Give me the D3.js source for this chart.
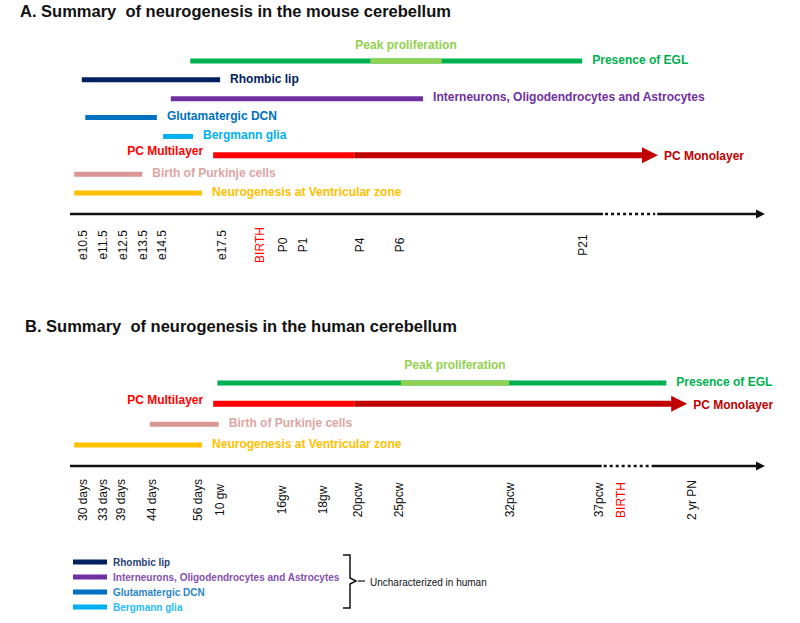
<!DOCTYPE html>
<html><head><meta charset="utf-8">
<script src="https://cdn.jsdelivr.net/npm/d3@7"></script>
<style>body{margin:0;background:#fff}svg{display:block}text{font-family:"Liberation Sans",Arial,sans-serif}</style>
</head><body><svg id="c" width="800" height="623"></svg>
<script>
// ---- DATA (timeline units 0..100 along the axis) ----
const mouseTickLabels = ["e10.5","e11.5","e12.5","e13.5","e14.5","e17.5","BIRTH","P0","P1","P4","P6","P21"];
const mouseTickPos    = [1.9, 4.7, 7.6, 10.5, 13.2, 21.9, 27.3, 30.6, 33.5, 41.7, 47.5, 73.8];
const mouseRows   = ["Presence of EGL","Rhombic lip","Interneurons, Oligodendrocytes and Astrocytes","Glutamatergic DCN","Bergmann glia","PC Multilayer","Birth of Purkinje cells","Neurogenesis at Ventricular zone"];
const mouseStart  = [17.3, 1.7, 14.5, 2.2, 13.4, 20.6, 0.6, 0.6];
const mouseEnd    = [73.7, 21.6, 50.8, 12.5, 17.7, 84.6, 10.4, 19.0];
const mousePeak   = [43.2, 53.5];
const mousePCMono = 40.9;
const mouseBreak  = [76.7, 84.2];

const humanTickLabels = ["30 days","33 days","39 days","44 days","56 days","10 gw","16gw","18gw","20pcw","25pcw","32pcw","37pcw","BIRTH","2 yr PN"];
const humanTickPos    = [1.9, 4.7, 7.3, 11.8, 18.4, 21.6, 30.5, 36.4, 41.4, 47.3, 63.3, 76.1, 79.3, 89.4];
const humanRows   = ["Presence of EGL","PC Multilayer","Birth of Purkinje cells","Neurogenesis at Ventricular zone"];
const humanStart  = [21.2, 20.6, 11.5, 0.6];
const humanEnd    = [85.8, 88.8, 21.4, 19.0];
const humanPeak   = [47.6, 63.2];
const humanPCMono = 40.9;
const humanBreak  = [76.5, 83.4];

const legendItems = ["Rhombic lip","Interneurons, Oligodendrocytes and Astrocytes","Glutamatergic DCN","Bergmann glia"];
const legendNote  = "Uncharacterized in human";

// ---- STYLES ----
const colors = {
  "Presence of EGL":"#00b050",
  "Peak":"#92d050",
  "Rhombic lip":"#002060",
  "Interneurons, Oligodendrocytes and Astrocytes":"#7030a0",
  "Glutamatergic DCN":"#0070c0",
  "Bergmann glia":"#00b0f0",
  "PC Multilayer":"#ff0000",
  "PC Monolayer":"#c00000",
  "Birth of Purkinje cells":"#d99694",
  "Neurogenesis at Ventricular zone":"#ffc000"
};
const labelColors = Object.assign({}, colors, {"Birth of Purkinje cells":"#dca5a4"});

const svg = d3.select("#c");
svg.append("rect").attr("width",800).attr("height",623).attr("fill","#fff");
const x = d3.scaleLinear().domain([0,100]).range([70,765]);

function panel(o){
  const g = svg.append("g");
  g.append("text").attr("x",o.titleX).attr("y",o.titleY).attr("font-size",16.5).attr("font-weight","bold")
    .attr("fill","#111").attr("xml:space","preserve").text(o.title);
  const y = d3.scalePoint().domain(o.rows).range(o.rowRange);
  o.rows.forEach((r,i)=>{
    const yy = y(r), s = o.start[i], e = o.end[i];
    if(r==="PC Multilayer"){
      g.append("line").attr("x1",x(s)).attr("x2",x(o.mono)).attr("y1",yy).attr("y2",yy)
        .attr("stroke",colors["PC Multilayer"]).attr("stroke-width",6);
      g.append("line").attr("x1",x(o.mono)).attr("x2",x(e)-14).attr("y1",yy).attr("y2",yy)
        .attr("stroke",colors["PC Monolayer"]).attr("stroke-width",6);
      const tip = x(e);
      g.append("path").attr("d",`M${tip-16},${yy-8}L${tip},${yy}L${tip-16},${yy+8}Z`).attr("fill",colors["PC Monolayer"]);
      g.append("text").attr("x",x(s)-10).attr("y",yy-4).attr("dy","0.35em").attr("text-anchor","end")
        .attr("font-size",12).attr("font-weight","bold").attr("fill",colors["PC Multilayer"]).text("PC Multilayer");
      g.append("text").attr("x",tip+6).attr("y",yy+1).attr("dy","0.35em")
        .attr("font-size",12).attr("font-weight","bold").attr("fill",colors["PC Monolayer"]).text("PC Monolayer");
      return;
    }
    g.append("line").attr("x1",x(s)).attr("x2",x(e)).attr("y1",yy).attr("y2",yy)
      .attr("stroke",colors[r]).attr("stroke-width",5);
    if(r==="Presence of EGL"){
      g.append("line").attr("x1",x(o.peak[0])).attr("x2",x(o.peak[1])).attr("y1",yy).attr("y2",yy)
        .attr("stroke",colors.Peak).attr("stroke-width",5);
      g.append("text").attr("x",(x(o.peak[0])+x(o.peak[1]))/2).attr("y",yy-o.peakOff).attr("dy","0.35em")
        .attr("text-anchor","middle").attr("font-size",12).attr("font-weight","bold").attr("fill",colors.Peak).text("Peak proliferation");
    }
    g.append("text").attr("x",x(e)+10).attr("y",yy-1.5).attr("dy","0.35em")
      .attr("font-size",12).attr("font-weight","bold").attr("fill",labelColors[r]).text(r);
  });
  // axis
  const ay = o.axisY;
  g.append("line").attr("x1",x(0)).attr("x2",x(o.brk[0])).attr("y1",ay).attr("y2",ay).attr("stroke","#111").attr("stroke-width",2.5);
  g.append("line").attr("x1",x(o.brk[0])+2).attr("x2",x(o.brk[1])).attr("y1",ay).attr("y2",ay).attr("stroke","#111")
    .attr("stroke-width",2.5).attr("stroke-dasharray","3,3");
  g.append("line").attr("x1",x(o.brk[1])+2).attr("x2",x(100)-6).attr("y1",ay).attr("y2",ay).attr("stroke","#111").attr("stroke-width",2.5);
  g.append("path").attr("d",`M${x(100)-9},${ay-4.5}L${x(100)},${ay}L${x(100)-9},${ay+4.5}Z`).attr("fill","#111");
  o.tickLabels.forEach((t,i)=>{
    const tx = x(o.tickPos[i]);
    g.append("text").attr("transform",`translate(${tx},${o.labelY}) rotate(-90)`)
      .attr("text-anchor","middle").attr("dy","0.35em").attr("font-size",12)
      .attr("fill", t==="BIRTH" ? "#ff0000" : "#111").text(t);
  });
}

panel({title:"A. Summary  of neurogenesis in the mouse cerebellum", titleX:20, titleY:17,
  rows:mouseRows, start:mouseStart, end:mouseEnd, peak:mousePeak, mono:mousePCMono, brk:mouseBreak,
  rowRange:[61,193], peakOff:16, axisY:214, labelY:245, tickLabels:mouseTickLabels, tickPos:mouseTickPos});
panel({title:"B. Summary  of neurogenesis in the human cerebellum", titleX:25, titleY:332,
  rows:humanRows, start:humanStart, end:humanEnd, peak:humanPeak, mono:humanPCMono, brk:humanBreak,
  rowRange:[383,445], peakOff:18, axisY:466, labelY:500, tickLabels:humanTickLabels, tickPos:humanTickPos});

// legend
const lg = svg.append("g");
const ly = d3.scalePoint().domain(legendItems).range([562,607]);
legendItems.forEach(k=>{
  lg.append("line").attr("x1",73).attr("x2",107).attr("y1",ly(k)).attr("y2",ly(k)).attr("stroke",colors[k]).attr("stroke-width",5);
  lg.append("text").attr("x",113).attr("y",ly(k)).attr("dy","0.35em").attr("font-size",10).attr("font-weight","bold")
    .attr("fill",colors[k]).attr("opacity",0.85).text(k);
});
lg.append("path").attr("d","M343,555H350V578L356,581L350,584V608H343").attr("fill","none").attr("stroke","#111").attr("stroke-width",1.5);
lg.append("line").attr("x1",358).attr("x2",365).attr("y1",581).attr("y2",581).attr("stroke","#111").attr("stroke-width",1.2);
lg.append("text").attr("x",370).attr("y",582).attr("dy","0.35em").attr("font-size",10).attr("fill","#111").text(legendNote);
</script></body></html>
